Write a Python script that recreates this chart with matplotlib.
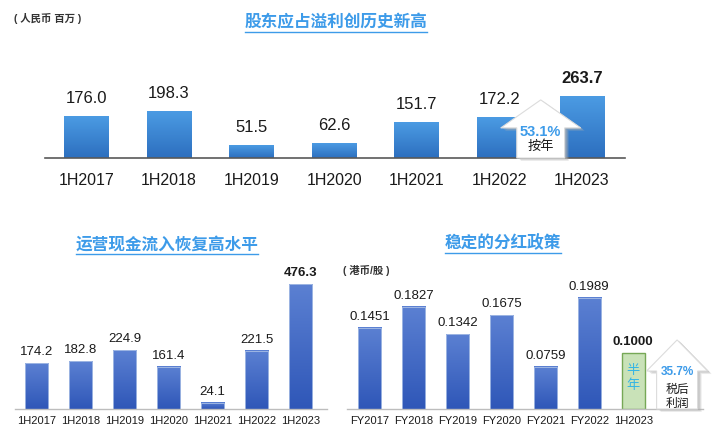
import matplotlib
matplotlib.use("Agg")
import matplotlib.pyplot as plt
import numpy as np
from matplotlib.colors import LinearSegmentedColormap
from matplotlib.patches import Polygon
from matplotlib.lines import Line2D
import matplotlib.transforms as mtransforms

plt.rcParams['font.family'] = ['Liberation Sans', 'Noto Sans CJK SC', 'DejaVu Sans']

# ---------------- data ----------------
profit_cats = ["1H2017", "1H2018", "1H2019", "1H2020", "1H2021", "1H2022", "1H2023"]
profit_vals = [176.0, 198.3, 51.5, 62.6, 151.7, 172.2, 263.7]
profit_growth = "53.1%"

cash_cats = ["1H2017", "1H2018", "1H2019", "1H2020", "1H2021", "1H2022", "1H2023"]
cash_vals = [174.2, 182.8, 224.9, 161.4, 24.1, 221.5, 476.3]

div_cats = ["FY2017", "FY2018", "FY2019", "FY2020", "FY2021", "FY2022", "1H2023"]
div_vals = [0.1451, 0.1827, 0.1342, 0.1675, 0.0759, 0.1989, 0.1000]
payout = "35.7%"

title_top = "股东应占溢利创历史新高"
title_bl = "运营现金流入恢复高水平"
title_br = "稳定的分红政策"
unit_top = "( 人民币 百万 )"
unit_br = "( 港币/股 )"

W, H = 712, 448
fig = plt.figure(figsize=(W / 100, H / 100), dpi=100)
fig.patch.set_facecolor("white")


def px_axes(x0, y_top, x1, y_bot):
    return fig.add_axes([x0 / W, 1 - y_bot / H, (x1 - x0) / W, (y_bot - y_top) / H])


def grad_bars(ax, xs, vals, width, c_top, c_bot, edge=None):
    cmap = LinearSegmentedColormap.from_list("g", [c_bot, c_top])
    bars = ax.bar(xs, vals, width=width, color="none", edgecolor="none", zorder=2)
    grad = np.linspace(0, 1, 64).reshape(-1, 1)
    for b in bars:
        x0, y0 = b.get_x(), b.get_y()
        ax.imshow(grad, extent=[x0, x0 + b.get_width(), y0, y0 + b.get_height()],
                  origin="lower", aspect="auto", cmap=cmap, zorder=2, interpolation="bilinear")
        if edge:
            ax.add_patch(plt.Rectangle((x0, y0), b.get_width(), b.get_height(),
                                       fill=False, edgecolor=edge, lw=0.6, zorder=3))
    return bars


def style_axes(ax, spine_color, lw):
    for s in ["top", "right", "left"]:
        ax.spines[s].set_visible(False)
    ax.spines["bottom"].set_color(spine_color)
    ax.spines["bottom"].set_linewidth(lw)
    ax.spines["bottom"].set_zorder(5)
    ax.set_yticks([])
    ax.tick_params(axis="x", length=0)
    ax.set_facecolor("none")


def block_arrow(ax, xc, hw_head, hw_shaft, y_base, y_neck, y_tip):
    pts = [(xc - hw_shaft, y_base), (xc - hw_shaft, y_neck), (xc - hw_head, y_neck),
           (xc, y_tip), (xc + hw_head, y_neck), (xc + hw_shaft, y_neck), (xc + hw_shaft, y_base)]
    for dx, dy, a in [(4, -3, 0.25), (3, -2, 0.35), (2, -1, 0.4)]:
        sh_tr = mtransforms.offset_copy(ax.transData, fig=fig, x=dx, y=dy, units="dots")
        ax.add_patch(Polygon(pts, closed=True, facecolor="#b0b0b0", edgecolor="none",
                             alpha=a, transform=sh_tr, zorder=6, clip_on=False))
    ax.add_patch(Polygon(pts, closed=True, facecolor="white", edgecolor="#dcdcdc",
                         lw=0.8, zorder=7, clip_on=False))


# ---------------- top chart ----------------
ax1 = px_axes(45, 60, 625, 158)
x1 = np.arange(len(profit_cats))
grad_bars(ax1, x1, profit_vals, 0.54, "#4b9be3", "#2d6fbf")
ax1.set_xlim(-0.5, 6.52)
ax1.set_ylim(0, 420)
style_axes(ax1, "#595959", 1.2)
ax1.set_xticks(x1)
ax1.set_xticklabels(profit_cats, fontsize=11.5, color="#1a1a1a")
ax1.tick_params(axis="x", pad=11)
for i, v in enumerate(profit_vals):
    last = i == len(profit_vals) - 1
    ax1.annotate(f"{v:.1f}", (x1[i], v), xytext=(0, 13), textcoords="offset points",
                 ha="center", va="center", fontsize=12, color="#1a1a1a",
                 fontweight="bold" if last else "normal", zorder=8)
block_arrow(ax1, 5.5, 0.484, 0.29, 0, 129, 249)
ax1.text(5.5, 112, profit_growth, ha="center", va="center", fontsize=10.5,
         fontweight="bold", color="#3d9be9", zorder=8)
ax1.text(5.5, 50, "按年", ha="center", va="center", fontsize=9.5, color="#1a1a1a", zorder=8)

# ---------------- bottom-left chart ----------------
ax2 = px_axes(15, 270, 327, 409)
x2 = np.arange(len(cash_cats))
grad_bars(ax2, x2, cash_vals, 0.53, "#5b80d2", "#2f57b8", edge="#a9bfe6")
ax2.set_xlim(-0.49, 6.6)
ax2.set_ylim(0, 530)
style_axes(ax2, "#bdbdbd", 1.0)
ax2.set_xticks(x2)
ax2.set_xticklabels(cash_cats, fontsize=8, color="#1a1a1a")
ax2.tick_params(axis="x", pad=5)
for i, v in enumerate(cash_vals):
    last = i == len(cash_vals) - 1
    ax2.annotate(f"{v:.1f}", (x2[i], v), xytext=(0, 8), textcoords="offset points",
                 ha="center", va="center", fontsize=9.5, color="#1a1a1a",
                 fontweight="bold" if last else "normal", zorder=8)

# ---------------- bottom-right chart ----------------
ax3 = px_axes(347, 280, 703, 409)
x3 = np.arange(len(div_cats))
grad_bars(ax3, x3[:-1], div_vals[:-1], 0.53, "#5b80d2", "#2f57b8", edge="#a9bfe6")
ax3.bar(x3[-1:], div_vals[-1:], width=0.53, color="#c9e2b8", edgecolor="#76a856",
        lw=1.0, zorder=2)
ax3.set_xlim(-0.52, 7.59)
ax3.set_ylim(0, 0.231)
style_axes(ax3, "#bdbdbd", 1.0)
ax3.set_xticks(x3)
ax3.set_xticklabels(div_cats, fontsize=8, color="#1a1a1a")
ax3.tick_params(axis="x", pad=5)
for i, v in enumerate(div_vals):
    last = i == len(div_vals) - 1
    ax3.annotate(f"{v:.4f}", (x3[i], v), xytext=(0, 8), textcoords="offset points",
                 ha="center", va="center", fontsize=9.5, color="#1a1a1a",
                 fontweight="bold" if last else "normal", zorder=8)
ax3.text(x3[-1], div_vals[-1] * 0.68, "半", ha="center", va="center", fontsize=9.5,
         color="#33b5e5", zorder=8)
ax3.text(x3[-1], div_vals[-1] * 0.42, "年", ha="center", va="center", fontsize=9.5,
         color="#33b5e5", zorder=8)
block_arrow(ax3, 7.0, 0.695, 0.467, 0.0, 0.068, 0.1237)
ax3.text(7.0, 0.066, payout, ha="center", va="center", fontsize=8.5, fontweight="bold",
         color="#3d9be9", zorder=8)
ax3.text(7.0, 0.034, "税后", ha="center", va="center", fontsize=8.5, color="#1a1a1a", zorder=8)
ax3.text(7.0, 0.009, "利润", ha="center", va="center", fontsize=8.5, color="#1a1a1a", zorder=8)

# ---------------- titles and units ----------------
title_color = "#3d9be9"
titles = [
    fig.text(336 / W, 1 - 22 / H, title_top, ha="center", va="center", fontsize=12,
             color=title_color, fontweight="bold"),
    fig.text(167 / W, 1 - 245 / H, title_bl, ha="center", va="center", fontsize=12,
             color=title_color, fontweight="bold"),
    fig.text(503 / W, 1 - 243 / H, title_br, ha="center", va="center", fontsize=12,
             color=title_color, fontweight="bold"),
]
fig.text(14 / W, 1 - 18 / H, unit_top, ha="left", va="center", fontsize=7.5,
         color="#333333", fontweight="bold")
fig.text(343 / W, 1 - 270 / H, unit_br, ha="left", va="center", fontsize=7.5,
         color="#333333", fontweight="bold")

fig.canvas.draw()
r = fig.canvas.get_renderer()
for t in titles:
    bb = t.get_window_extent(r)
    y = (bb.y0 - 1.5) / H
    fig.add_artist(Line2D([bb.x0 / W, bb.x1 / W], [y, y], color=title_color, lw=1.0))

fig.savefig("out.png", dpi=100, facecolor="white")
